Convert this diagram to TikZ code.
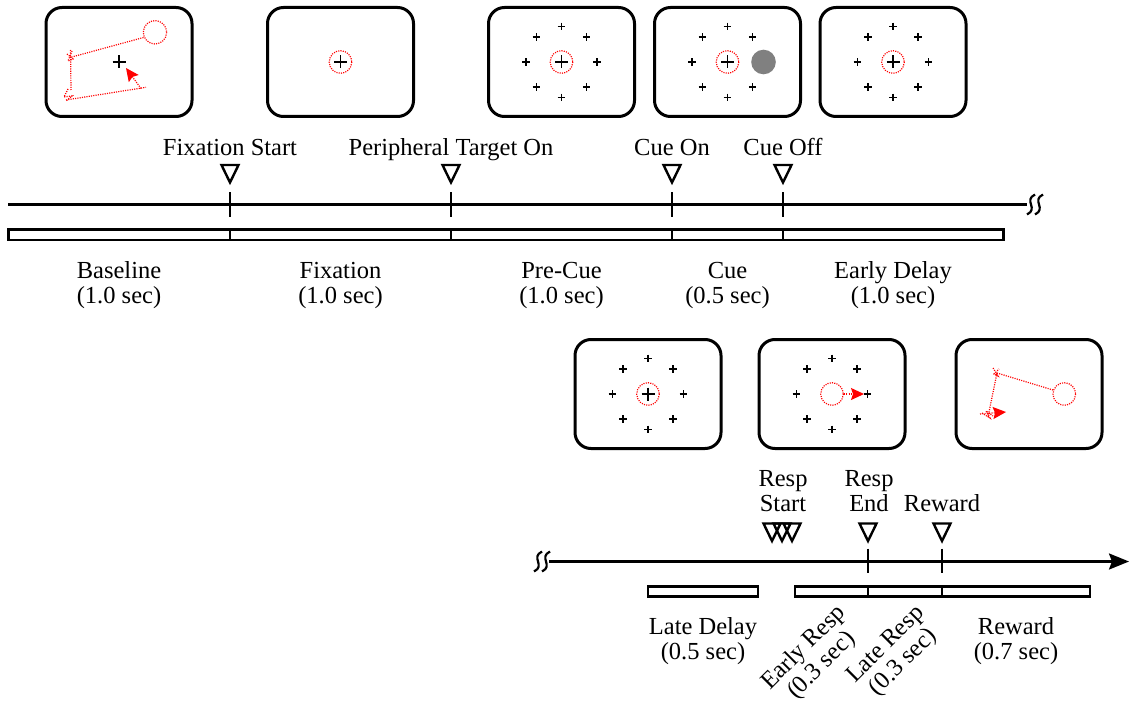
\documentclass[tikz,border=0pt]{standalone}
\usepackage{fontspec}
\setmainfont{Liberation Serif}
\usetikzlibrary{arrows.meta,calc}
\tikzset{
  screen/.style={draw, line width=3pt, rounded corners=16pt, minimum width=146pt, minimum height=109pt, inner sep=0pt},
  fix/.style={line width=1.5pt},
  pl/.style={line width=1.6pt},
  reddot/.style={red, line width=1.2pt, dash pattern=on 1.1pt off 1.2pt},
  redarrow/.style={reddot, -{Stealth[length=13pt,width=12pt,inset=2pt]}},
  tl/.style={line width=2.5pt},
  tick/.style={line width=2.5pt},
  barseg/.style={line width=2.8pt},
  trimk/.style={line width=2.4pt},
  brkline/.style={line width=2.2pt},
  lbl/.style={font=\fontsize{24.5}{25}\selectfont, inner sep=0pt, anchor=base},
  rlbl/.style={font=\fontsize{24.5}{25}\selectfont, inner sep=0pt, align=center, rotate=45},
}
\newcommand\fixcross[1]{\draw[fix] (#1) +(-6.5,0) -- +(6.5,0) +(0,-6.5) -- +(0,6.5);}
\newcommand\fixring[1]{\draw[reddot] (#1) circle[radius=11.3];}
\newcommand\ringpluses[1]{\foreach \a in {0,45,...,315}{\draw[pl] ($(#1)+(\a:35.5)$) +(-3.8,0) -- +(3.8,0) +(0,-3.8) -- +(0,3.8);}}
\newcommand\tri[2]{\draw[trimk] (#1-8.5,#2) -- (#1+8.5,#2) -- (#1,#2+17.5) -- cycle;}
\newcommand\brk[2]{\draw[brkline] (#1+4,#2-10) .. controls (#1-8,#2-4) and (#1+8,#2+4) .. (#1-4,#2+10);}
\begin{document}
\begin{tikzpicture}[x=1pt,y=-1pt]
\useasboundingbox (0,0) rectangle (1129,706);

% ---------------- screens ----------------
\node[screen] (s1) at (119,62) {};
\node[screen] (s2) at (340.5,62) {};
\node[screen] (s3) at (561.5,62) {};
\node[screen] (s4) at (727.5,62) {};
\node[screen] (s5) at (893,62) {};
\node[screen] (s6) at (648,394) {};
\node[screen] (s7) at (832,394) {};
\node[screen] (s8) at (1029,394) {};

% screen 1: previous trial eye trace
\fixcross{s1}
\draw[reddot] (155,32.3) circle[radius=11.7];
\draw[reddot] (143.5,37.5) -- (70,57.5);
\draw[reddot] (67,54) -- (73,59) -- (68,61) -- (72,51);
\draw[reddot] (70.5,50) -- (71,90);
\draw[reddot] (68,89) -- (64,97) -- (72,96) -- (66,101);
\draw[reddot] (66,100) -- (146,87.3);
\draw[redarrow] (141,88.5) -- (126,68);

% screen 2: fixation
\fixcross{s2}
\fixring{s2}

% screen 3: peripheral targets
\fixcross{s3}
\fixring{s3}
\ringpluses{s3}

% screen 4: cue
\fixcross{s4}
\fixring{s4}
\ringpluses{s4}
\fill[gray] ($(s4)+(36,0)$) circle[radius=12.3];

% screen 5: early delay
\fixcross{s5}
\fixring{s5}
\ringpluses{s5}

% screen 6: late delay
\fixcross{s6}
\fixring{s6}
\ringpluses{s6}

% screen 7: response
\fixring{s7}
\ringpluses{s7}
\draw[redarrow] ($(s7)+(12,0)$) -- ($(s7)+(32,0)$);

% screen 8: reward trace
\draw[reddot] (1064.3,394) circle[radius=11.3];
\draw[reddot] (1053,390) -- (997,373);
\draw[reddot] (993,368) -- (998,376) -- (994,374) -- (999,369);
\draw[reddot] (997,373) -- (988,417);
\draw[reddot] (982,413) -- (990,418) -- (986,411) -- (993,416);
\draw[redarrow] (980,414) -- (1006,412);

% ---------------- top timeline ----------------
\coordinate (tA) at (8,204.5);
\coordinate (tB) at (1027,204.5);
\draw[tl] (tA) -- (tB);
\brk{1031}{204.5}
\brk{1039}{204.5}
\foreach \x in {230,451,672,783}{\draw[tick] (\x,192) -- (\x,216.5); \tri{\x}{165}}

\node[lbl] (lfs) at (230,155) {Fixation Start};
\node[lbl] (lpt) at (451,155) {Peripheral Target On};
\node[lbl] (lcon) at (672,155) {Cue On};
\node[lbl] (lcoff) at (783,155) {Cue Off};

% bars
\draw[barseg] (8.5,229.5) rectangle (230,240);
\draw[barseg] (230,229.5) rectangle (451,240);
\draw[barseg] (451,229.5) rectangle (672,240);
\draw[barseg] (672,229.5) rectangle (783,240);
\draw[barseg] (783,229.5) rectangle (1003.5,240);

\node[lbl] (b1a) at (119,278) {Baseline};
\node[lbl] (b1b) at (119,303) {(1.0 sec)};
\node[lbl] (b2a) at (340.5,278) {Fixation};
\node[lbl] (b2b) at (340.5,303) {(1.0 sec)};
\node[lbl] (b3a) at (561.5,278) {Pre-Cue};
\node[lbl] (b3b) at (561.5,303) {(1.0 sec)};
\node[lbl] (b4a) at (727.5,278) {Cue};
\node[lbl] (b4b) at (727.5,303) {(0.5 sec)};
\node[lbl] (b5a) at (893,278) {Early Delay};
\node[lbl] (b5b) at (893,303) {(1.0 sec)};

% ---------------- bottom timeline ----------------
\brk{538}{561.5}
\brk{546}{561.5}
\coordinate (bA) at (549,561.5);
\coordinate (bB) at (1129,561.5);
\draw[tl, -{Stealth[length=20pt,width=16pt,inset=3pt]}] (bA) -- (bB);
\foreach \x in {868,942}{\draw[tick] (\x,548.5) -- (\x,572.5); \tri{\x}{523.5}}
\tri{772}{523.5}
\tri{782}{523.5}
\tri{792}{523.5}

\node[lbl] (rs1) at (783,486) {Resp};
\node[lbl] (rs2) at (783,511) {Start};
\node[lbl] (re1) at (869,486) {Resp};
\node[lbl] (re2) at (869,511) {End};
\node[lbl] (rw) at (942,511) {Reward};

\draw[barseg] (648,586.5) rectangle (758,596.2);
\draw[barseg] (795,586.5) rectangle (868,596.2);
\draw[barseg] (868,586.5) rectangle (942,596.2);
\draw[barseg] (942,586.5) rectangle (1090,596.2);

\node[lbl] (ld1) at (703,634) {Late Delay};
\node[lbl] (ld2) at (703,659) {(0.5 sec)};
\node[rlbl] (er) at (813,657) {Early Resp\\(0.3 sec)};
\node[rlbl] (lr) at (895,654) {Late Resp\\(0.3 sec)};
\node[lbl] (rd1) at (1016,634) {Reward};
\node[lbl] (rd2) at (1016,659) {(0.7 sec)};
\end{tikzpicture}
\end{document}
